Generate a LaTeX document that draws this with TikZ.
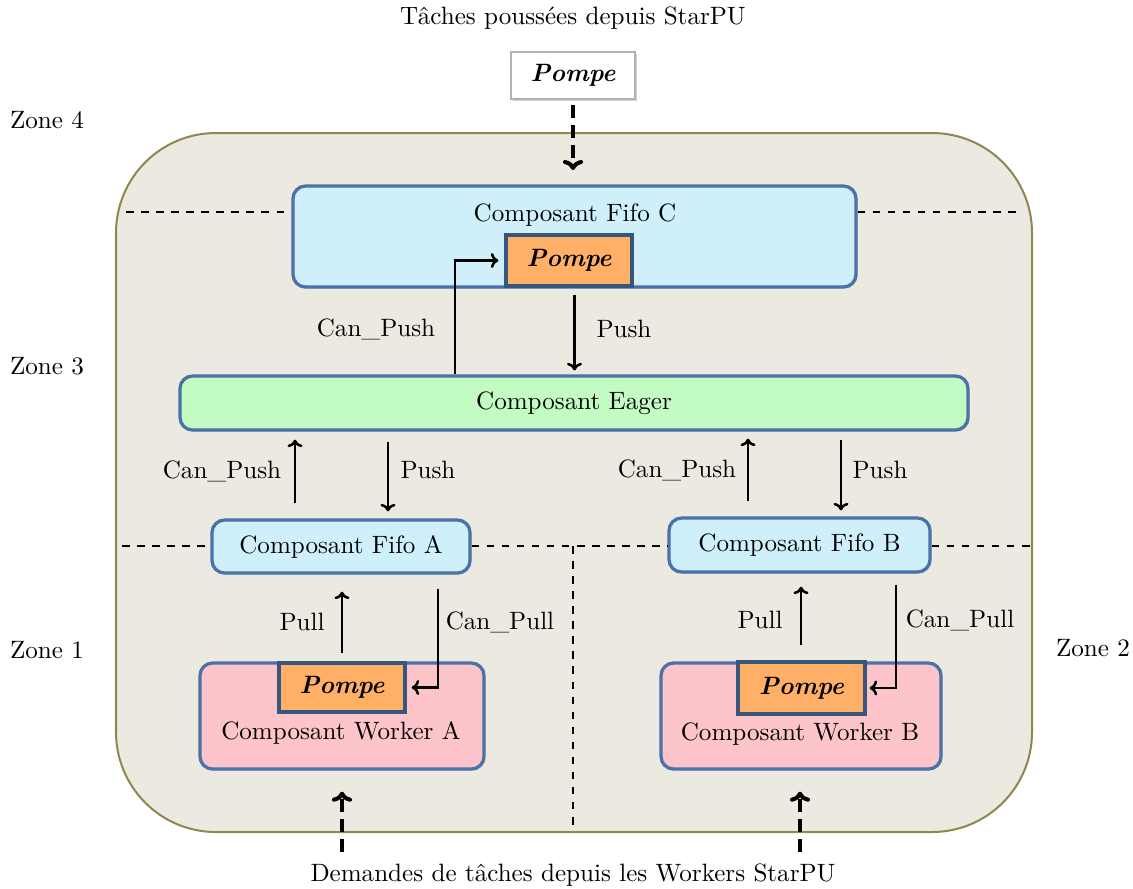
\documentclass[tikz,border=0pt]{standalone}
\usetikzlibrary{arrows.meta,shadows}
\definecolor{zonefill}{HTML}{ECE9E0}
\definecolor{zoneline}{HTML}{8F8750}
\definecolor{fifoblue}{HTML}{CFF0FB}
\definecolor{eagergreen}{HTML}{C2FCC2}
\definecolor{workerpink}{HTML}{FDC4C9}
\definecolor{pompeorange}{HTML}{FFB066}
\definecolor{boxline}{HTML}{4A72A8}
\tikzset{
  composant/.style={draw=boxline, fill=#1, line width=1.3pt, rounded corners=5pt,
    inner sep=0pt, drop shadow={opacity=0.25, shadow xshift=0.6pt, shadow yshift=-0.6pt}},
  pompe/.style={draw=boxline!75!black, fill=pompeorange, line width=1.3pt,
    inner sep=0pt, font=\bfseries\itshape},
  fleche/.style={-{To[length=3pt,width=6pt]}, line width=1pt},
  demande/.style={-{To[length=4pt,width=8pt]}, dash pattern=on 5pt off 3pt, line width=1.6pt},
  frontiere/.style={dashed, line width=0.6pt}
}
\begin{document}
\begin{tikzpicture}[x=0.014cm, y=-0.014cm]
  \def\px{0.014cm}
  \useasboundingbox (0,0) rectangle (1133,888);
  %
  % fond des zones
  \draw[draw=zoneline, fill=zonefill, line width=0.8pt, rounded corners=1.4cm]
    (116,133) rectangle (1032,832);
  %
  \node (titre) at (573,18) {T\^aches pouss\'ees depuis StarPU};
  \node (bas) at (573,875) {Demandes de t\^aches depuis les Workers StarPU};
  \node[pompe, draw=gray!60, fill=white, line width=1pt, minimum width=124*\px, minimum height=47*\px,
    drop shadow={opacity=0.35, shadow xshift=0.8pt, shadow yshift=-0.8pt}] (pompeHaut) at (573,75.5) {Pompe};
  %
  \node (zone4) at (47,120) {Zone 4};
  \node (zone3) at (47,366) {Zone 3};
  \node (zone1) at (47,650) {Zone 1};
  \node (zone2) at (1093,648) {Zone 2};
  %
  % composants
  \node[composant=fifoblue, minimum width=563*\px, minimum height=101*\px] (fifoC) at (574.5,236.5) {};
  \node (fifoCtexte) at (575,215) {Composant Fifo C};
  \node[pompe, minimum width=126*\px, minimum height=51*\px] (pompeC) at (569,260.5) {Pompe};
  %
  \node[composant=eagergreen, minimum width=788*\px, minimum height=54*\px] (eager) at (574,403) {Composant Eager};
  %
  \node[composant=fifoblue, minimum width=258*\px, minimum height=53*\px] (fifoA) at (341,546.5) {Composant Fifo A};
  \node[composant=fifoblue, minimum width=261*\px, minimum height=54*\px] (fifoB) at (799.5,545) {Composant Fifo B};
  %
  \node[composant=workerpink, minimum width=284*\px, minimum height=106*\px] (workerA) at (342,716) {};
  \node[pompe, minimum width=126*\px, minimum height=49*\px] (pompeA) at (342,687.5) {Pompe};
  \node (workerAtexte) at (341,733) {Composant Worker A};
  \node[composant=workerpink, minimum width=280*\px, minimum height=106*\px] (workerB) at (801,716) {};
  \node[pompe, minimum width=127*\px, minimum height=52*\px] (pompeB) at (801.5,688) {Pompe};
  \node (workerBtexte) at (800,734) {Composant Worker B};
  %
  % lignes entre zones
  \draw[frontiere] (126,212) -- (126,212 -| fifoC.west);
  \draw[frontiere] (fifoC.east |- 0,212) -- (1022,212);
  \draw[frontiere] (122,546) -- (122,546 -| fifoA.west);
  \draw[frontiere] (fifoA.east |- 0,546) -- (fifoB.west |- 0,546);
  \draw[frontiere] (fifoB.east |- 0,546) -- (1030,546);
  \draw[frontiere] (573,546) -- (573,832);
  %
  % fleches
  \coordinate (entreeC) at (573,170);
  \draw[demande, shorten <=5*\px] (pompeHaut) -- (entreeC);
  \draw[fleche, shorten >=6*\px] ([xshift=-119*\px]eager.north) |- (pompeC.west);
  \draw[fleche, shorten <=6*\px, shorten >=4*\px] (fifoC.south) -- (fifoC.south |- eager.north);
  \node (canPushC) at (376,329) {Can\_Push};
  \node (pushC) at (624,329) {Push};
  %
  \draw[fleche, shorten <=15*\px, shorten >=8*\px] ([xshift=-46*\px]fifoA.north) -- ([xshift=-46*\px]fifoA.north |- eager.south);
  \draw[fleche, shorten <=10*\px, shorten >=7*\px] ([xshift=47*\px]fifoA.north |- eager.south) -- ([xshift=47*\px]fifoA.north);
  \node (canPushA) at (222,471) {Can\_Push};
  \node (pushA) at (428,470) {Push};
  \draw[fleche, shorten <=15*\px, shorten >=7*\px] ([xshift=-51.5*\px]fifoB.north) -- ([xshift=-51.5*\px]fifoB.north |- eager.south);
  \draw[fleche, shorten <=8*\px, shorten >=6*\px] ([xshift=41.5*\px]fifoB.north |- eager.south) -- ([xshift=41.5*\px]fifoB.north);
  \node (canPushB) at (677,470) {Can\_Push};
  \node (pushB) at (880,470) {Push};
  %
  \draw[fleche, shorten <=8*\px, shorten >=17*\px] (workerA.north) -- (workerA.north |- fifoA.south);
  \draw[fleche, shorten <=14*\px, shorten >=5*\px] ([xshift=97*\px]fifoA.south) |- (pompeA.east);
  \node (pullA) at (302,622) {Pull};
  \node (canPullA) at (500,622) {Can\_Pull};
  \draw[fleche, shorten <=16*\px, shorten >=13*\px] (workerB.north) -- (workerB.north |- fifoB.south);
  \draw[fleche, shorten <=11*\px, shorten >=3*\px] ([xshift=96.5*\px]fifoB.south) |- (pompeB.east);
  \node (pullB) at (760,620) {Pull};
  \node (canPullB) at (960,620) {Can\_Pull};
  %
  \coordinate (demandeA) at (342,852);
  \coordinate (demandeB) at (800,852);
  \draw[demande, shorten >=21*\px] (demandeA) -- (workerA.south);
  \draw[demande, shorten >=21*\px] (demandeB) -- (demandeB |- workerB.south);
\end{tikzpicture}
\end{document}
